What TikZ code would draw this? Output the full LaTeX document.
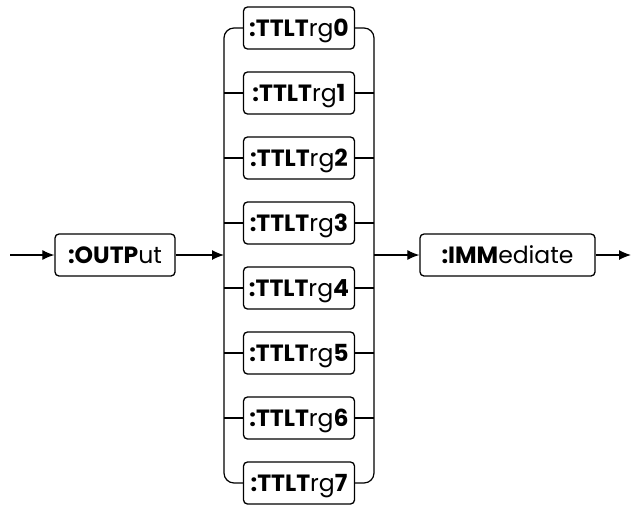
\documentclass[tikz,border=0pt]{standalone}
\usepackage{fontspec}
\setmainfont{Poppins}
\usetikzlibrary{arrows.meta}
\begin{document}
\begin{tikzpicture}[x=1pt,y=-1pt,
  kw/.style={draw, rounded corners=4pt, line width=1.3pt, inner sep=0pt,
    minimum height=42pt, text height=17pt, text depth=0pt,
    font=\fontsize{23.5}{24}\selectfont},
  trg/.style={kw, minimum width=111pt},
  wire/.style={line width=1.2pt},
  bus/.style={wire, rounded corners=10pt},
  arr/.style={wire, -{Latex[length=12pt,width=10pt]}}]
\useasboundingbox (0,0) rectangle (631,504);

% entry, keyword and the two vertical buses
\coordinate (in) at (10,255);
\coordinate (lb) at (224,255);
\coordinate (rb) at (374,255);
\coordinate (out end) at (631,255);
\node[kw, minimum width=120pt] (outp) at (115,255) {\textbf{:OUTP}ut};
\node[kw, minimum width=175pt] (imm) at (507.5,255) {\textbf{:IMM}ediate};

% the eight trigger lines
\foreach \i in {0,...,7}
  \node[trg] (t\i) at (299,28+65*\i) {\textbf{:TTLT}rg\textbf{\i}};

% main path
\draw[arr] (in) -- (outp.west);
\draw[arr] (outp.east) -- (lb);
\draw[arr] (rb) -- (imm.west);
\draw[arr] (imm.east) -- (out end);

% branches
\draw[bus] (t0.west) -| (lb) |- (t7.west);
\draw[bus] (t0.east) -| (rb) |- (t7.east);
\foreach \i in {1,...,6} {
  \draw[wire] (t\i.west -| lb) -- (t\i.west);
  \draw[wire] (t\i.east) -- (t\i.east -| rb);
}
\end{tikzpicture}
\end{document}
